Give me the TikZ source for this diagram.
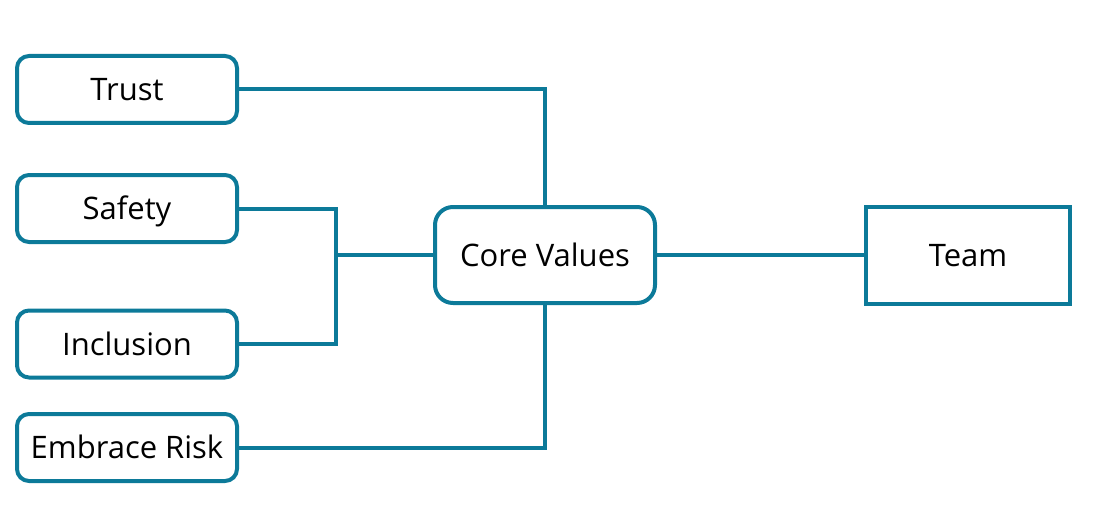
\documentclass[tikz,border=0pt]{standalone}
\usepackage{fontspec}
\setmainfont{Open Sans}
\definecolor{teal1}{RGB}{12,122,153}
\begin{document}
\begin{tikzpicture}[x=1pt,y=-1pt,
  box/.style={draw=teal1,line width=4pt,rounded corners=12pt,inner sep=0pt,
    minimum width=220pt,minimum height=67pt,font=\fontsize{31}{35}\selectfont,text=black,
    text height=22.1pt,text depth=0pt},
  sqbox/.style={box,rounded corners=0pt},
  link/.style={draw=teal1,line width=4pt}]
\useasboundingbox (0,0) rectangle (1095,508);
\node[box] (trust) at (127,89.5) {Trust};
\node[box] (safety) at (127,208.5) {Safety};
\node[box] (inclusion) at (127,344) {Inclusion};
\node[box] (embrace) at (127,447.5) {Embrace Risk};
\node[box,minimum height=96pt,rounded corners=18pt] (core) at (545,255) {Core Values};
\node[sqbox,minimum width=204pt,minimum height=97pt] (team) at (968,255) {Team};
\coordinate (j) at (336,255);
\draw[link] (trust.east) -| (core.north);
\draw[link] (embrace.east) -| (core.south);
\draw[link] (safety.east) -| (j) |- (inclusion.east);
\draw[link] (j) -- (core.west);
\draw[link] (core.east) -- (team.west);
\end{tikzpicture}
\end{document}
